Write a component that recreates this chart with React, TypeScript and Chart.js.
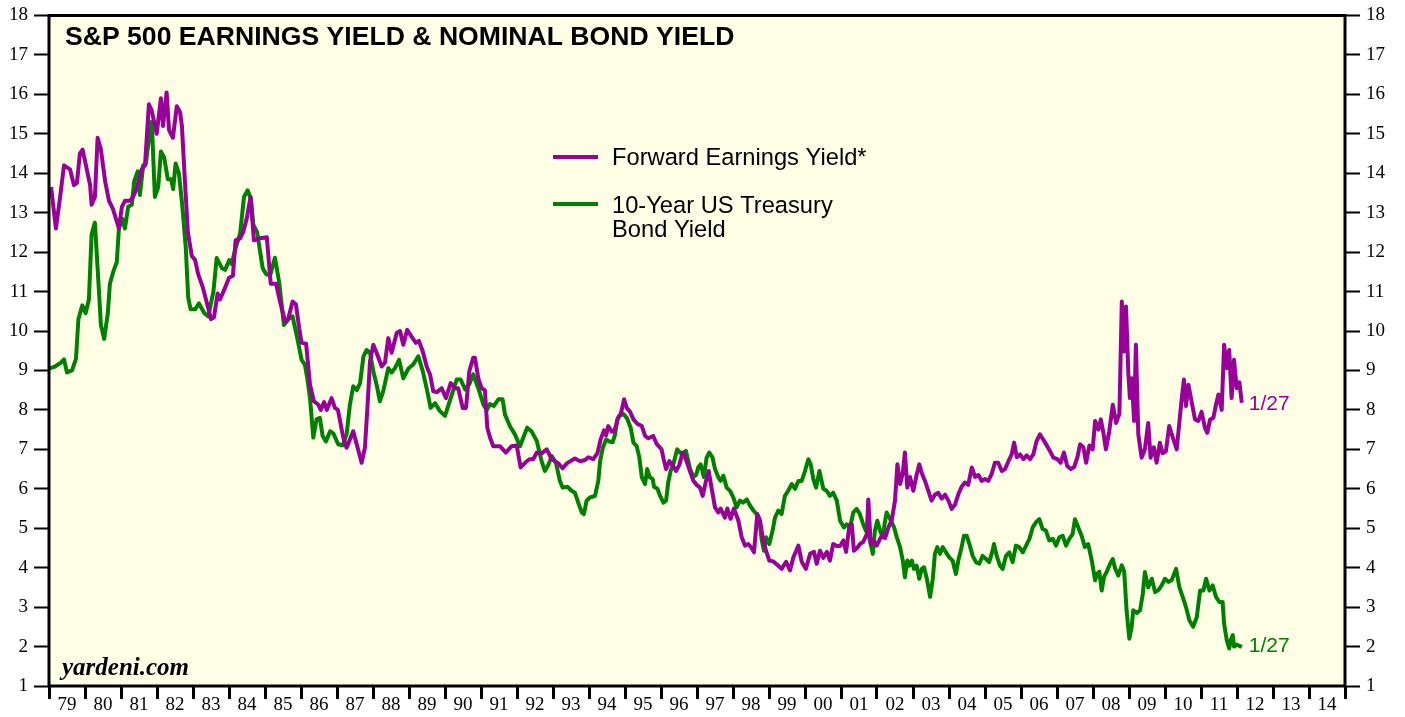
import React, { useEffect, useRef } from 'react';
import { Chart, registerables } from 'chart.js';

Chart.register(...registerables);

const TITLE = 'S&P 500 EARNINGS YIELD & NOMINAL BOND YIELD';
const EARN_LABEL = 'Forward Earnings Yield*';
const BOND_LABEL_1 = '10-Year US Treasury';
const BOND_LABEL_2 = 'Bond Yield';
const LAST_DATE = '1/27';
const SOURCE = 'yardeni.com';

// x axis: months since Jan 1979, one label per year (centred within the year)
const yearLabels = [
  '79', '80', '81', '82', '83', '84', '85', '86', '87', '88', '89', '90',
  '91', '92', '93', '94', '95', '96', '97', '98', '99', '00', '01', '02',
  '03', '04', '05', '06', '07', '08', '09', '10', '11', '12', '13', '14',
];
const Y_MIN = 1;
const Y_MAX = 18;

// Forward earnings yield (%) — months since Jan 1979
const earnMonths = [
  0.7, 2.3, 3.7, 5, 7, 8.3, 9.3, 10.3, 11.2, 12.6, 13.7, 14.2, 15.3, 16.2, 17.3, 18.7, 20, 21.3, 23.3, 24.3,
  25.3, 27, 28, 29.2, 30.9, 32, 33.3, 34.2, 35.9, 37.3, 38, 39.2, 40, 41.3, 42.6, 43.7, 44.3, 45.3, 46.3, 47.6,
  48.7, 49.7, 51.3, 53, 54, 55, 56.2, 57, 58.7, 60, 61.3, 62.2, 63.7, 64.7, 65.9, 67.2, 68.3, 70.3, 72.6, 73.9,
  75.7, 77, 78.7, 79.7, 81.2, 82.3, 83.4, 84.2, 85.7, 87, 88.3, 89.8, 90.6, 91.7, 92.6, 94.2, 95.3, 96.3, 98.1, 99.2,
  100.3, 101.4, 102.6, 104.2, 105.3, 106.2, 107, 108.1, 109.2, 110.9, 112, 113.1, 114.2, 115.9, 117, 118.1, 119.4, 120.9, 122.3, 123.3,
  124.6, 125.9, 127, 128.1, 129.3, 130.9, 132.3, 133.9, 135.3, 136.4, 137.9, 139, 140.1, 141.4, 142, 143.1, 144.2, 145.3, 146.1, 147,
  148.1, 150.3, 152.3, 154.2, 155.9, 157.2, 158.7, 160.1, 161.4, 162.6, 164.2, 165.9, 167.6, 169.7, 171.2, 172.7, 175.3, 177, 178.7, 179.8,
  181.4, 182.8, 183.9, 185, 185.7, 186.4, 187.6, 188.3, 189, 189.8, 190.6, 191.7, 192.6, 193.7, 194.8, 196.1, 197.6, 198.7, 199.8, 201.4,
  202.6, 204.2, 205, 205.7, 206.8, 207.9, 209, 210.1, 211.2, 212.3, 213.4, 214.8, 215.9, 217, 217.9, 219, 219.9, 220.9, 222, 223.1,
  223.9, 225.3, 226.1, 227.2, 228.3, 229.8, 230.9, 232, 233.1, 234.2, 235, 236.1, 237, 237.9, 239, 240.1, 241.4, 243.1, 244.2, 245.7,
  247, 248.1, 249.8, 250.9, 252.3, 253.7, 255, 255.9, 257, 258.1, 259.3, 260.3, 261.4, 262.6, 263.7, 264.8, 265.7, 266.8, 267.6, 268.3,
  269.4, 270.3, 271.4, 272.6, 273.1, 273.9, 274.8, 275.9, 276.8, 277.9, 278.7, 279.8, 280.9, 282, 282.8, 283.7, 284.6, 285.3, 286.1, 287,
  288.1, 289.2, 290.1, 290.9, 292, 293.1, 294.2, 295.3, 296.4, 297.6, 298.7, 299.8, 300.9, 302, 303.1, 304.2, 305.3, 306.4, 307.6, 308.7,
  309.8, 310.9, 312, 313.1, 314.2, 315.3, 316.4, 317.6, 318.7, 319.8, 320.9, 321.7, 322.6, 323.7, 324.8, 325.9, 327, 328.1, 329.2, 330.3,
  331.4, 332.6, 333.7, 334.8, 336.1, 337.2, 338.3, 339.4, 340.6, 341.7, 342.8, 343.7, 344.8, 345.7, 346.8, 347.9, 348.7, 349.8, 350.6, 351.4,
  352.3, 353.4, 354.6, 355.7, 356.8, 357.6, 358.3, 359, 359.8, 360.3, 360.9, 361.7, 362.3, 363.1, 364.2, 365.3, 366.4, 367.2, 368.3, 369.2,
  370.3, 371.2, 372.3, 373.4, 374.6, 375.9, 377, 377.6, 378.3, 379, 379.8, 380.9, 382, 383.1, 384.2, 385.3, 386.1, 387, 388.1, 389,
  389.8, 390.9, 391.7, 392.6, 393.4, 394.2, 395, 395.9, 396.8, 397.6,
];
const earnYield = [
  13.65, 12.6, 13.4, 14.2, 14.1, 13.7, 13.75, 14.5, 14.6, 14.1, 13.7, 13.2, 13.4, 14.9, 14.6, 13.8, 13.3, 13.1, 12.6, 13.15,
  13.3, 13.3, 13.4, 13.6, 14.1, 14.2, 15.75, 15.6, 15.0, 15.9, 15.2, 16.05, 15.1, 14.9, 15.7, 15.55, 15.2, 13.8, 12.5, 11.9,
  11.8, 11.45, 11.1, 10.6, 10.3, 10.35, 10.95, 10.8, 11.1, 11.35, 11.4, 12.3, 12.35, 12.5, 12.85, 13.4, 12.3, 12.35, 12.38, 11.2,
  11.2, 10.75, 10.24, 10.3, 10.75, 10.68, 10.07, 9.7, 9.68, 8.64, 8.22, 8.13, 8.0, 8.2, 8.0, 8.3, 8.05, 8.0, 7.3, 7.04,
  7.25, 7.46, 7.12, 6.66, 7.04, 8.13, 9.23, 9.65, 9.45, 9.1, 9.2, 9.82, 9.45, 9.95, 10.0, 9.65, 10.03, 9.85, 9.7, 9.75,
  9.48, 9.1, 8.9, 8.47, 8.45, 8.55, 8.3, 8.68, 8.55, 8.55, 8.05, 8.05, 8.98, 9.32, 9.32, 8.8, 8.55, 8.5, 7.55, 7.3,
  7.08, 7.08, 6.92, 7.08, 7.1, 6.54, 6.66, 6.75, 6.75, 6.92, 6.9, 7.0, 6.75, 6.65, 6.52, 6.65, 6.77, 6.7, 6.73, 6.8,
  6.75, 6.9, 7.26, 7.48, 7.35, 7.59, 7.45, 7.45, 7.6, 7.82, 7.9, 8.27, 8.05, 7.95, 7.76, 7.65, 7.59, 7.34, 7.28, 7.34,
  7.13, 7.0, 6.71, 6.5, 6.7, 6.6, 6.45, 6.6, 6.92, 6.75, 6.5, 6.2, 6.1, 6.03, 5.82, 6.2, 6.45, 6.0, 5.53, 5.4,
  5.5, 5.27, 5.5, 5.24, 5.5, 5.19, 4.77, 4.56, 4.6, 4.5, 4.39, 5.36, 5.2, 4.77, 4.43, 4.18, 4.16, 4.05, 3.97, 4.15,
  3.93, 4.26, 4.56, 4.15, 3.97, 4.35, 4.4, 4.1, 4.43, 4.25, 4.4, 4.18, 4.6, 4.55, 4.55, 4.69, 4.4, 5.07, 5.1, 4.43,
  4.5, 4.6, 4.65, 4.85, 5.73, 4.6, 4.7, 4.56, 4.7, 4.85, 4.75, 5.02, 5.2, 5.7, 6.62, 6.12, 6.4, 6.92, 6.03, 6.3,
  5.95, 6.35, 6.62, 6.4, 6.2, 5.95, 5.7, 5.85, 5.9, 5.75, 5.85, 5.7, 5.49, 5.6, 5.86, 6.05, 6.16, 6.1, 6.54, 6.3,
  6.35, 6.2, 6.25, 6.2, 6.37, 6.66, 6.66, 6.45, 6.5, 6.7, 6.87, 7.17, 6.8, 6.87, 6.75, 6.85, 6.75, 6.87, 7.21, 7.38,
  7.25, 7.1, 6.95, 6.79, 6.75, 6.66, 6.92, 6.58, 6.5, 6.55, 6.8, 7.13, 7.05, 6.66, 7.1, 7.0, 7.72, 7.5, 7.76, 7.45,
  7.0, 7.45, 8.13, 7.67, 7.9, 10.75, 9.48, 10.62, 8.9, 8.3, 8.8, 7.72, 9.65, 7.38, 6.79, 7.0, 7.67, 6.79, 7.05, 6.66,
  7.17, 6.9, 6.95, 7.59, 7.3, 7.0, 7.85, 8.3, 8.77, 8.1, 8.64, 8.2, 7.76, 7.72, 7.95, 7.55, 7.42, 7.75, 7.8, 8.13,
  8.39, 8.0, 9.65, 9.06, 9.52, 8.3, 9.27, 8.55, 8.7, 8.18,
];

// 10-year US Treasury bond yield (%) — months since Jan 1979
const bondMonths = [
  0, 2, 4, 5, 6, 7.7, 9, 9.8, 11.1, 12.2, 13.3, 14.2, 15.3, 16.2, 17.3, 18.4, 19.6, 20.3, 21.4, 22.6,
  23.3, 24.4, 25.3, 26.4, 27.6, 28.4, 29.6, 30.3, 31.4, 32.3, 34, 34.4, 35.3, 36.4, 37.3, 38.4, 39.6, 40.7, 41.4, 42.2,
  43.3, 44.4, 45.6, 46.4, 47.2, 48.7, 50, 51.8, 53.1, 54.8, 55.9, 57.6, 58.7, 60.1, 60.9, 62, 63.7, 65, 66.2, 67.3,
  68.1, 69.4, 71.2, 72.3, 73.7, 75.3, 76.7, 78.3, 79.8, 81.2, 82.8, 84.2, 85.3, 86.1, 87, 88.1, 89.2, 90.3, 91.2, 92.3,
  93.7, 94.8, 96.4, 97.9, 99.2, 100.3, 101.4, 102.6, 103.7, 104.8, 105.9, 107, 108.1, 109.2, 110.3, 111.4, 113.1, 114.2, 115.3, 116.7,
  118.1, 119.8, 121.4, 123.1, 124.6, 126.1, 127.2, 128.7, 130.3, 132, 133.9, 135.9, 137.2, 138.7, 140.1, 141.4, 143.1, 144.8, 145.9, 147,
  148.3, 149.8, 151.2, 152, 153.7, 155.3, 157, 158.1, 159.4, 160.9, 162.6, 164.2, 165.3, 166.4, 167.6, 169, 170.3, 171.2, 172.8, 174.2,
  175.3, 176.4, 177.6, 178.3, 179.2, 180.3, 182, 183.1, 183.7, 184.6, 185.7, 186.8, 187.9, 188.7, 189.4, 190.3, 191.4, 192.6, 193.9, 194.8,
  195.9, 196.8, 197.6, 198.7, 199.4, 200.3, 201.2, 201.7, 202.8, 203.7, 204.8, 205.7, 206.4, 207.2, 208.1, 209.4, 210.3, 211.2, 212.3, 213.1,
  213.7, 214.8, 215.7, 216.4, 217.2, 218.3, 219.2, 220.1, 221.2, 222, 223.1, 223.9, 224.8, 225.9, 227, 228.1, 229.2, 230.3, 231.4, 232.6,
  233.7, 234.8, 235.9, 236.8, 237.6, 238.3, 239, 240.1, 241.2, 242, 243.1, 244.2, 245.3, 246.4, 247.6, 248.7, 249.8, 250.9, 252, 253.1,
  253.9, 254.8, 255.7, 256.8, 258.1, 259.2, 260.3, 261.4, 262.6, 263.7, 265, 265.9, 267, 268.1, 269.2, 270.3, 271.4, 272.3, 273.1, 273.9,
  274.6, 275.3, 276.1, 277, 277.9, 278.7, 279.2, 280.1, 280.9, 281.7, 282.6, 283.7, 284.6, 285.3, 286.1, 286.8, 287.6, 288.3, 289.2, 290.1,
  290.9, 291.7, 292.6, 293.7, 294.6, 295.3, 296.1, 297, 297.9, 299, 300.1, 301.2, 302.3, 303.1, 304.2, 305, 305.9, 306.8, 307.9, 309,
  310.1, 311.2, 312.3, 313.4, 314.6, 315, 315.9, 317, 317.9, 319, 320.1, 321.2, 322.3, 323.4, 324.6, 325.7, 326.8, 327.9, 329, 330.1,
  331.2, 332.3, 333.4, 334.6, 335.7, 336.8, 337.9, 339, 340.1, 341.2, 342, 343.1, 344.2, 345.3, 346.4, 347.6, 348.7, 349.4, 350.1, 350.9,
  351.7, 352.6, 353.7, 354.6, 355.3, 356.4, 357.6, 358.4, 359.2, 360.1, 360.9, 361.4, 362.6, 363.7, 364.6, 365.3, 366.4, 367.6, 368.7, 369.8,
  370.9, 372, 373.1, 374.2, 375.7, 376.8, 377.9, 379, 380.1, 381.4, 382.6, 383.7, 384.8, 385.7, 386.8, 387.9, 389, 390.1, 391.2, 391.7,
  392.6, 393.4, 393.9, 394.6, 395, 395.9, 397.6,
];
const bondYield = [
  9.05, 9.1, 9.2, 9.28, 8.95, 9.0, 9.3, 10.3, 10.65, 10.45, 10.8, 12.45, 12.75, 11.6, 10.15, 9.8, 10.45, 11.2, 11.5, 11.75,
  12.6, 12.85, 12.6, 13.15, 13.2, 13.8, 14.05, 13.45, 14.2, 14.25, 15.3, 15.05, 13.4, 13.65, 14.55, 14.4, 13.85, 13.85, 13.6, 14.25,
  14.0, 13.2, 12.1, 10.85, 10.55, 10.55, 10.7, 10.45, 10.37, 11.0, 11.85, 11.6, 11.55, 11.8, 11.7, 12.05, 12.47, 13.4, 13.57, 13.35,
  12.7, 12.5, 11.6, 11.45, 11.4, 11.86, 11.25, 10.15, 10.3, 10.37, 9.8, 9.27, 9.15, 8.8, 8.3, 7.3, 7.76, 7.8, 7.34, 7.2,
  7.46, 7.4, 7.13, 7.1, 7.38, 8.13, 8.6, 8.5, 8.68, 9.35, 9.52, 9.45, 8.98, 8.64, 8.22, 8.47, 9.06, 8.95, 9.06, 9.27,
  8.8, 9.05, 9.15, 9.36, 8.98, 8.47, 8.05, 8.17, 7.97, 7.85, 8.3, 8.77, 8.77, 8.52, 8.65, 8.9, 8.55, 8.13, 8.0, 8.15,
  8.1, 8.27, 8.27, 7.88, 7.58, 7.38, 7.08, 7.3, 7.55, 7.45, 7.21, 6.7, 6.45, 6.6, 6.83, 6.65, 6.2, 6.03, 6.05, 5.95,
  5.9, 5.65, 5.4, 5.36, 5.7, 5.78, 5.82, 6.2, 6.7, 7.04, 7.25, 7.2, 7.18, 7.38, 7.76, 7.85, 7.9, 7.8, 7.55, 7.17,
  7.08, 6.79, 6.29, 6.12, 6.5, 6.29, 6.25, 6.05, 6.0, 5.82, 5.65, 5.7, 6.16, 6.45, 6.62, 7.0, 6.92, 6.88, 6.96, 6.7,
  6.5, 6.3, 6.35, 6.54, 6.62, 6.3, 6.79, 6.92, 6.79, 6.5, 6.29, 6.2, 6.33, 6.03, 5.95, 5.78, 5.53, 5.7, 5.65, 5.73,
  5.57, 5.45, 5.36, 5.19, 4.69, 4.43, 4.77, 4.6, 4.94, 5.27, 5.45, 5.36, 5.82, 5.95, 6.12, 6.0, 6.2, 6.2, 6.45, 6.75,
  6.62, 6.24, 6.03, 6.45, 6.0, 5.95, 5.82, 5.9, 5.7, 5.19, 5.02, 5.1, 5.02, 5.4, 5.49, 5.36, 5.1, 4.94, 4.85, 4.6,
  4.35, 4.94, 5.19, 4.94, 4.77, 5.19, 5.4, 5.27, 5.15, 5.02, 4.77, 4.52, 4.18, 3.76, 4.18, 4.05, 4.18, 3.97, 4.05, 3.72,
  3.97, 4.01, 3.72, 3.26, 3.72, 4.35, 4.52, 4.35, 4.52, 4.39, 4.26, 4.18, 3.84, 4.18, 4.52, 4.81, 4.81, 4.6, 4.3, 4.14,
  4.1, 4.3, 4.22, 4.14, 4.45, 4.6, 4.3, 4.05, 3.97, 4.3, 4.39, 4.14, 4.56, 4.52, 4.39, 4.56, 4.73, 5.02, 5.15, 5.23,
  4.98, 4.94, 4.69, 4.73, 4.56, 4.77, 4.81, 4.56, 4.73, 4.85, 5.23, 5.02, 4.81, 4.52, 4.6, 4.18, 3.68, 3.85, 3.9, 3.42,
  3.77, 3.9, 4.1, 4.22, 4.0, 3.8, 4.06, 3.9, 2.92, 2.2, 2.5, 2.92, 2.85, 2.92, 3.34, 3.89, 3.5, 3.72, 3.38, 3.43,
  3.55, 3.72, 3.64, 3.68, 3.97, 3.5, 3.26, 3.0, 2.67, 2.5, 2.75, 3.42, 3.42, 3.72, 3.42, 3.55, 3.26, 3.13, 3.13, 2.58,
  2.16, 1.95, 2.16, 2.29, 2.0, 2.05, 1.99,
];

const PURPLE = '#990099';
const GREEN = '#008000';
const BG = '#FFFFE6';
const SANS = '"Liberation Sans", Arial, sans-serif';
const SERIF = '"Liberation Serif", "Times New Roman", serif';

const decorPlugin = {
  id: 'decor',
  beforeDraw(chart: any) {
    const { ctx, chartArea } = chart;
    const { left, top, right, bottom } = chartArea;
    ctx.save();
    ctx.fillStyle = BG;
    ctx.fillRect(left, top, right - left, bottom - top);
    ctx.restore();
  },
  afterDraw(chart: any) {
    const { ctx, chartArea, scales } = chart;
    const { left, top, right, bottom } = chartArea;
    ctx.save();
    // frame
    ctx.strokeStyle = '#000';
    ctx.lineWidth = 3;
    ctx.strokeRect(left, top, right - left, bottom - top);

    // title
    ctx.fillStyle = '#000';
    ctx.textAlign = 'left';
    ctx.textBaseline = 'alphabetic';
    ctx.font = `bold 26.6px ${SANS}`;
    ctx.fillText(TITLE, left + 16, top + 29);

    // legend
    ctx.lineWidth = 4;
    ctx.lineCap = 'butt';
    ctx.strokeStyle = PURPLE;
    ctx.beginPath();
    ctx.moveTo(553, 157);
    ctx.lineTo(598, 157);
    ctx.stroke();
    ctx.strokeStyle = GREEN;
    ctx.beginPath();
    ctx.moveTo(553, 204);
    ctx.lineTo(598, 204);
    ctx.stroke();
    ctx.fillStyle = '#000';
    ctx.font = `23.7px ${SANS}`;
    ctx.fillText(EARN_LABEL, 612, 165);
    ctx.fillText(BOND_LABEL_1, 612, 213);
    ctx.fillText(BOND_LABEL_2, 612, 237);

    // source
    ctx.font = `italic bold 25px ${SERIF}`;
    ctx.fillText(SOURCE, left + 13, bottom - 11);

    // end-of-series date labels
    const xs = scales.x;
    const ys = scales.y;
    ctx.font = `21px ${SANS}`;
    ctx.textBaseline = 'middle';
    const eLast = earnMonths.length - 1;
    ctx.fillStyle = PURPLE;
    ctx.fillText(LAST_DATE, xs.getPixelForValue(earnMonths[eLast]) + 7, ys.getPixelForValue(earnYield[eLast]) + 1);
    const bLast = bondMonths.length - 1;
    ctx.fillStyle = GREEN;
    ctx.fillText(LAST_DATE, xs.getPixelForValue(bondMonths[bLast]) + 7, ys.getPixelForValue(bondYield[bLast]) - 1);
    ctx.restore();
  },
};

export default function App() {
  const canvasRef = useRef<HTMLCanvasElement | null>(null);

  useEffect(() => {
    const canvas = canvasRef.current;
    if (!canvas) return;
    const totalMonths = yearLabels.length * 12;
    const yAxisCommon = (position: string, width: number) => ({
      type: 'linear',
      position,
      min: Y_MIN,
      max: Y_MAX,
      afterFit: (s: any) => {
        s.width = width;
      },
      border: { display: false },
      grid: {
        drawOnChartArea: false,
        drawTicks: true,
        tickLength: 15,
        tickWidth: 2,
        tickColor: '#000',
        color: '#000',
      },
      ticks: {
        stepSize: 1,
        padding: 6,
        color: '#000',
        font: { family: SERIF, size: 19, lineHeight: 1 },
      },
    });

    const chart = new Chart(canvas, {
      type: 'line',
      data: {
        datasets: [
          {
            label: EARN_LABEL,
            data: earnMonths.map((m, i) => ({ x: m, y: earnYield[i] })),
            borderColor: PURPLE,
            borderWidth: 4,
            pointRadius: 0,
            tension: 0,
            borderJoinStyle: 'round',
            fill: false,
            yAxisID: 'y',
          },
          {
            label: BOND_LABEL_1 + ' ' + BOND_LABEL_2,
            data: bondMonths.map((m, i) => ({ x: m, y: bondYield[i] })),
            borderColor: GREEN,
            borderWidth: 4,
            pointRadius: 0,
            tension: 0,
            borderJoinStyle: 'round',
            fill: false,
            yAxisID: 'y',
          },
        ],
      },
      options: {
        responsive: false,
        animation: false,
        devicePixelRatio: 1,
        layout: { padding: { top: 13, left: 0, right: 0, bottom: 0 } },
        plugins: {
          legend: { display: false },
          tooltip: { enabled: false },
          title: { display: false },
        },
        scales: {
          x: {
            type: 'linear',
            min: 0,
            max: totalMonths,
            afterBuildTicks: (s: any) => {
              const t = [];
              for (let v = 0; v <= totalMonths; v += 6) t.push({ value: v });
              s.ticks = t;
            },
            afterFit: (s: any) => {
              s.height = 31;
            },
            border: { display: false },
            grid: {
              drawOnChartArea: false,
              drawTicks: true,
              tickLength: 13,
              tickWidth: 3,
              color: 'rgba(0,0,0,0)',
              tickColor: (c: any) =>
                c.tick && c.tick.value % 12 === 0 ? '#000' : 'rgba(0,0,0,0)',
            },
            ticks: {
              autoSkip: false,
              maxRotation: 0,
              minRotation: 0,
              padding: -5,
              color: '#000',
              font: { family: SERIF, size: 19 },
              callback: (v: any) => {
                const n = Number(v);
                return n % 12 === 6 ? yearLabels[(n - 6) / 12] : '';
              },
            },
          },
          y: yAxisCommon('left', 49),
          y2: yAxisCommon('right', 60),
        },
      } as any,
      plugins: [decorPlugin],
    } as any);

    return () => chart.destroy();
  }, []);

  return (
    <div style={{ position: 'absolute', left: 0, top: 0, width: 1405, height: 717, background: '#fff' }}>
      <canvas ref={canvasRef} width={1405} height={717} />
    </div>
  );
}
